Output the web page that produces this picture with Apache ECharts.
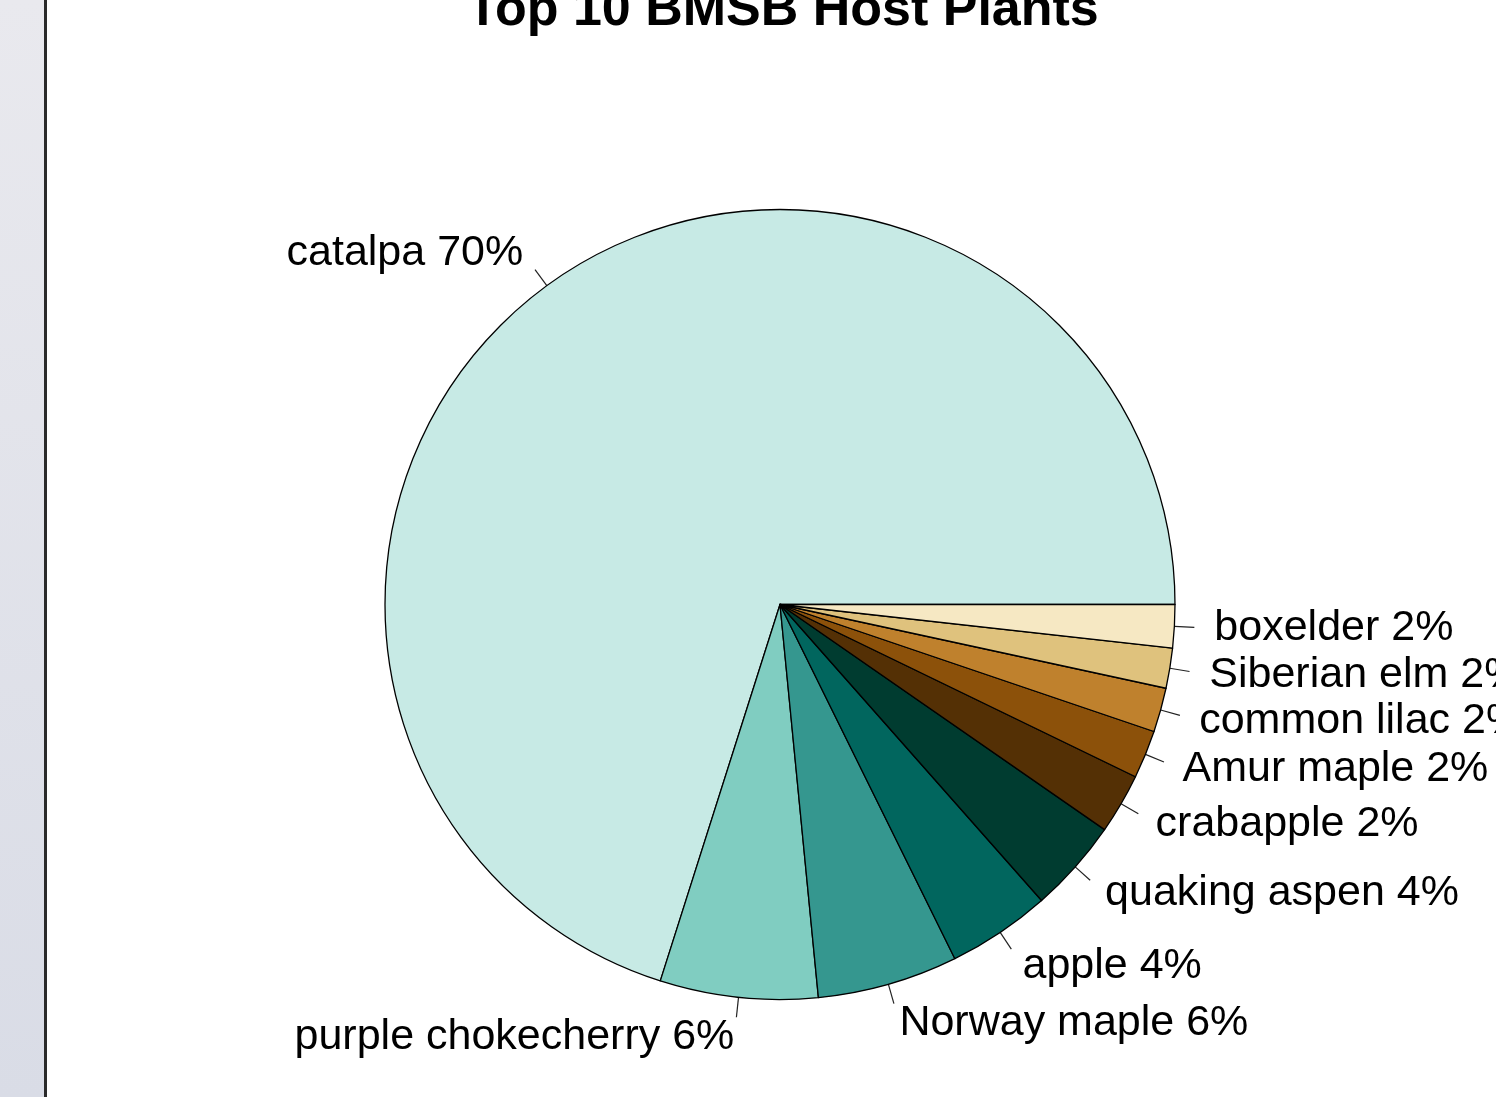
<!DOCTYPE html>
<html>
<head>
<meta charset="utf-8">
<script src="https://cdn.jsdelivr.net/npm/echarts@6/dist/echarts.min.js"></script>
<style>
html,body{margin:0;padding:0;background:#fff;}
#chart{width:1496px;height:1097px;}
</style>
</head>
<body>
<div id="chart"></div>
<script>
// ---- data ----
const categories = ['catalpa', 'purple chokecherry', 'Norway maple', 'apple', 'quaking aspen',
                    'crabapple', 'Amur maple', 'common lilac', 'Siberian elm', 'boxelder'];
const shares = [70.10, 6.45, 5.75, 4.22, 3.83, 2.47, 1.97, 1.81, 1.64, 1.76];
const pctLabels = ['70%', '6%', '6%', '4%', '4%', '2%', '2%', '2%', '2%', '2%'];
const sliceColors = ['#C7EAE5', '#80CDC1', '#35978F', '#01665E', '#003C30',
                     '#543005', '#8C510A', '#BF812D', '#DFC27D', '#F6E8C3'];
const titleText = 'Top 10 BMSB Host Plants';

const FONT = '"Liberation Sans", Arial, sans-serif';
const R = 395;
const CENTER = [780, 604.5];

const sliceData = categories.map((c, i) => ({
  name: c, value: shares[i], itemStyle: { color: sliceColors[i] }
}));

const chart = echarts.init(document.getElementById('chart'), null, { renderer: 'canvas' });
chart.setOption({
  animation: false,
  backgroundColor: '#ffffff',
  title: {
    text: titleText,
    left: 462,
    top: -20,
    textStyle: { fontFamily: FONT, fontSize: 52, fontWeight: 'bold', color: '#000' }
  },
  graphic: [
    {
      type: 'rect', left: 0, top: 0, z: 100,
      shape: { width: 44, height: 1097 },
      style: {
        fill: new echarts.graphic.LinearGradient(0, 0, 0, 1, [
          { offset: 0, color: '#e9e9ee' }, { offset: 1, color: '#d9dce6' }
        ])
      }
    },
    {
      type: 'rect', left: 44, top: 0, z: 100,
      shape: { width: 3, height: 1097 },
      style: { fill: '#2a2a2a' }
    }
  ],
  series: [
    {
      type: 'pie',
      center: CENTER,
      radius: R,
      startAngle: 0,
      clockwise: false,
      avoidLabelOverlap: false,
      silent: true,
      emphasis: { disabled: true },
      itemStyle: { borderColor: '#000', borderWidth: 1.3 },
      label: {
        show: true, position: 'outside', color: '#000',
        fontSize: 43, fontFamily: FONT, distanceToLabelLine: 0,
        padding: [12, 0, 0, 0],
        formatter: (p) => p.name + ' ' + pctLabels[p.dataIndex]
      },
      labelLine: {
        show: true, length: 40, length2: 0, smooth: false,
        lineStyle: { color: '#222', width: 1.2 }
      },
      // R draws the tick only from r to 1.05 r, text sits at 1.1 r
      labelLayout: function (params) {
        const pts = params.labelLinePoints;
        if (!pts || pts.length < 2) return {};
        const a = pts[0], b = pts[1];
        const m = [(a[0] + b[0]) / 2, (a[1] + b[1]) / 2];
        return { labelLinePoints: [a, m, m] };
      },
      data: sliceData
    }
  ]
});
</script>
</body>
</html>
